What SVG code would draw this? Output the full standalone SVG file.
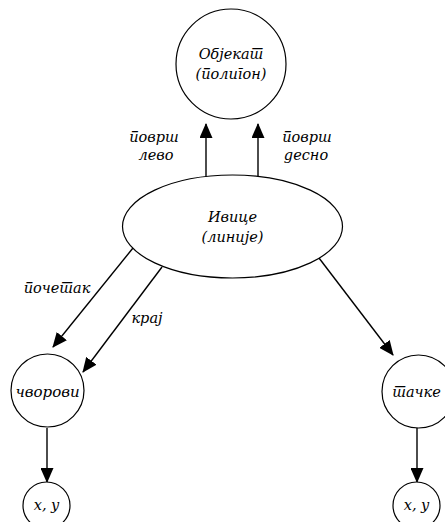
<svg xmlns="http://www.w3.org/2000/svg" width="445" height="522" viewBox="0 0 445 522" xml:lang="sr">
  <style>
    .node { fill: #fff; stroke: #000; stroke-width: 1.2; }
    .edge { stroke: #000; stroke-width: 1.4; fill: none; marker-end: url(#arrow); }
    text { font-family: "DejaVu Serif", "Liberation Serif", serif; font-style: italic; font-size: 14.5px; fill: #000; text-anchor: middle; }
  </style>
  <defs>
    <marker id="arrow" markerWidth="15" markerHeight="13" refX="14" refY="6.5" orient="auto" markerUnits="userSpaceOnUse">
      <path d="M0,0 L15,6.5 L0,13 Z" fill="#000"/>
    </marker>
  </defs>

  <!-- connectors with their labels -->
  <g id="connectors">
    <line class="edge" x1="206" y1="177" x2="206" y2="124"/>
    <line class="edge" x1="258" y1="177" x2="258" y2="124"/>
    <line class="edge" x1="133" y1="248" x2="53" y2="347"/>
    <line class="edge" x1="162" y1="267" x2="83" y2="372"/>
    <line class="edge" x1="319" y1="258" x2="393" y2="355"/>
    <line class="edge" x1="47" y1="428" x2="47" y2="482"/>
    <line class="edge" x1="417" y1="428" x2="417" y2="482"/>
    <text x="154" y="142">површ</text>
    <text x="156" y="160">лево</text>
    <text x="307" y="142">површ</text>
    <text x="306" y="160">десно</text>
    <text x="57" y="293">почетак</text>
    <text x="147" y="323">крај</text>
  </g>

  <g id="object">
    <circle class="node" cx="231" cy="64" r="55"/>
    <text x="231" y="59">Објекат</text>
    <text x="231" y="79">(полигон)</text>
  </g>

  <g id="edges-node">
    <ellipse class="node" cx="232.5" cy="226.5" rx="110" ry="51.5"/>
    <text x="232.5" y="222">Ивице</text>
    <text x="232.5" y="242">(линије)</text>
  </g>

  <g id="vertices">
    <circle class="node" cx="47.5" cy="390.5" r="36.5"/>
    <text x="47.5" y="397" style="font-size:15px">чворови</text>
  </g>

  <g id="points">
    <circle class="node" cx="418.5" cy="391.5" r="36.5"/>
    <text x="416.5" y="397">тачке</text>
  </g>

  <g id="xy-left">
    <circle class="node" cx="46.5" cy="505.5" r="23.5"/>
    <text x="46.5" y="510">x, y</text>
  </g>

  <g id="xy-right">
    <circle class="node" cx="416.5" cy="505.5" r="23.5"/>
    <text x="416.5" y="510">x, y</text>
  </g>
</svg>
